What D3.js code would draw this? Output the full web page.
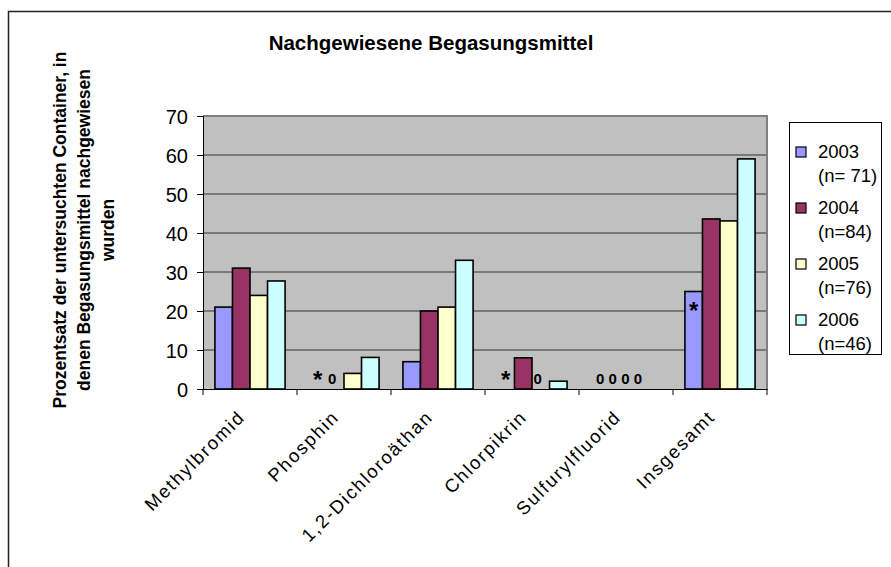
<!DOCTYPE html>
<html><head><meta charset="utf-8">
<script src="https://cdn.jsdelivr.net/npm/d3@7"></script>
<style>body{margin:0;background:#fff;}svg{display:block;font-family:"Liberation Sans",Arial,sans-serif;}</style>
</head><body><svg id="c" width="891" height="567"></svg>
<script>
const categories = ["Methylbromid","Phosphin","1,2-Dichloroäthan","Chlorpikrin","Sulfurylfluorid","Insgesamt"];
const seriesNames = ["2003","2004","2005","2006"];
const seriesN = ["(n= 71)","(n=84)","(n=76)","(n=46)"];
const colors = ["#9999FF","#993366","#FFFFCC","#CCFFFF"];
const v2003 = [21, 0, 7, 0, 0, 25];
const v2004 = [31, 0, 20, 8, 0, 43.6];
const v2005 = [24, 4, 21, 0, 0, 43.1];
const v2006 = [27.7, 8.1, 33, 2, 0, 59];
const values = [v2003, v2004, v2005, v2006];
// value labels: [category index, series index, text]
const valueLabels = [[1,0,"*"],[1,1,"0"],[3,0,"*"],[3,2,"0"],[4,0,"0"],[4,1,"0"],[4,2,"0"],[4,3,"0"],[5,0,"*"]];
const yTicks = [0,10,20,30,40,50,60,70];
const title = "Nachgewiesene Begasungsmittel";
const yTitle = ["Prozentsatz der untersuchten Container, in","denen Begasungsmittel nachgewiesen","wurden"];

const svg = d3.select("#c");
svg.append("rect").attr("x",8.5).attr("y",11.5).attr("width",900).attr("height",600)
  .attr("fill","#fff").attr("stroke","#222").attr("stroke-width",1.5);

const L=203, R=767, T=116, B=389;
const x = d3.scaleBand().domain(categories).range([L,R]).paddingInner(0).paddingOuter(0);
const x1 = d3.scaleBand().domain(seriesNames).range([0,x.bandwidth()]).paddingOuter(0.68).paddingInner(0);
const y = d3.scaleLinear().domain([0,70]).range([B,T]);

svg.append("rect").attr("x",L).attr("y",T).attr("width",R-L).attr("height",B-T).attr("fill","#C0C0C0");
svg.append("g").selectAll("line").data(yTicks.filter(d=>d>0&&d<70)).join("line")
  .attr("x1",L).attr("x2",R).attr("y1",d=>y(d)).attr("y2",d=>y(d)).attr("stroke","#333").attr("stroke-width",1);
svg.append("path").attr("d",`M${L},${y(70)}H${R}V${B}`).attr("fill","none").attr("stroke","#808080").attr("stroke-width",2);

const groups = svg.append("g").selectAll("g").data(categories).join("g").attr("transform",d=>`translate(${x(d)},0)`);
groups.selectAll("rect").data((c,i)=>seriesNames.map((s,j)=>({s,j,v:values[j][i]})).filter(d=>d.v>0)).join("rect")
  .attr("x",d=>x1(d.s)).attr("width",x1.bandwidth())
  .attr("y",d=>y(d.v)).attr("height",d=>y(0)-y(d.v))
  .attr("fill",d=>colors[d.j]).attr("stroke","#000").attr("stroke-width",1.6);

const yAxis = d3.axisLeft(y).tickValues(yTicks).tickSize(6).tickPadding(9);
const gy = svg.append("g").attr("transform",`translate(${L},0)`).call(yAxis);
gy.select(".domain").attr("stroke","#000").attr("stroke-width",1);
gy.selectAll(".tick line").attr("stroke","#000");
gy.selectAll("text").attr("font-size",20).attr("font-family","Liberation Sans, Arial").attr("fill","#000").attr("dy","0.35em");

const xAxis = d3.axisBottom(x).tickSize(0).tickFormat("");
const gx = svg.append("g").attr("transform",`translate(0,${B})`).call(xAxis);
gx.select(".domain").attr("stroke","#000").attr("stroke-width",1.2);
svg.append("g").selectAll("line").data(categories.concat(["_end"])).join("line")
  .attr("x1",(d,i)=>L+i*x.bandwidth()).attr("x2",(d,i)=>L+i*x.bandwidth())
  .attr("y1",B).attr("y2",B+6).attr("stroke","#000");
svg.append("g").selectAll("text").data(categories).join("text")
  .attr("transform",d=>`translate(${x(d)+x.bandwidth()/2-13},${B+20}) rotate(-45)`)
  .attr("text-anchor","end").attr("dy","0.7em").attr("font-size",18.5).attr("letter-spacing",1.8).attr("fill","#000").text(d=>d);

const allZero = i => values.every(s=>s[i]===0);
svg.append("g").selectAll("text").data(valueLabels).join("text")
  .attr("x",d=>{
    const cx = x(categories[d[0]])+x.bandwidth()/2;
    const bx = x(categories[d[0]])+x1(seriesNames[d[1]])+x1.bandwidth()/2;
    if (d[2]==="*") return bx;
    return allZero(d[0]) ? cx-7+(bx-cx)*0.72 : bx-3;})
  .attr("y",d=>{const v=values[d[1]][d[0]]; return d[2]==="*" ? (v>0? y(v)+27 : B-1) : B-5;})
  .attr("text-anchor","middle").attr("font-weight","bold")
  .attr("font-size",d=>d[2]==="*"?24:15).attr("fill","#000").text(d=>d[2]);

svg.append("text").attr("x",431).attr("y",50).attr("text-anchor","middle").attr("font-weight","bold")
  .attr("font-size",20.5).attr("fill","#000").text(title);
const yt = svg.append("text").attr("transform","translate(0,230) rotate(-90)").attr("text-anchor","middle")
  .attr("font-weight","bold").attr("font-size",17.5).attr("fill","#000");
yTitle.forEach((t,i)=>yt.append("tspan").attr("x",0).attr("y",66+i*24).text(t));

const lg = svg.append("g");
lg.append("rect").attr("x",789.5).attr("y",122.5).attr("width",92).attr("height",232).attr("fill","#fff").attr("stroke","#000").attr("stroke-width",1);
const items = lg.selectAll("g").data(seriesNames).join("g").attr("transform",(d,i)=>`translate(0,${152+i*56})`);
items.append("rect").attr("x",796).attr("y",-5).attr("width",10).attr("height",10).attr("fill",(d,i)=>colors[i]).attr("stroke","#000").attr("stroke-width",1.2);
items.append("text").attr("x",818).attr("y",0).attr("dy","0.35em").attr("font-size",18.5).attr("fill","#000").text(d=>d);
items.append("text").attr("x",818).attr("y",24).attr("dy","0.35em").attr("font-size",18.5).attr("fill","#000").text((d,i)=>seriesN[i]);
</script></body></html>
